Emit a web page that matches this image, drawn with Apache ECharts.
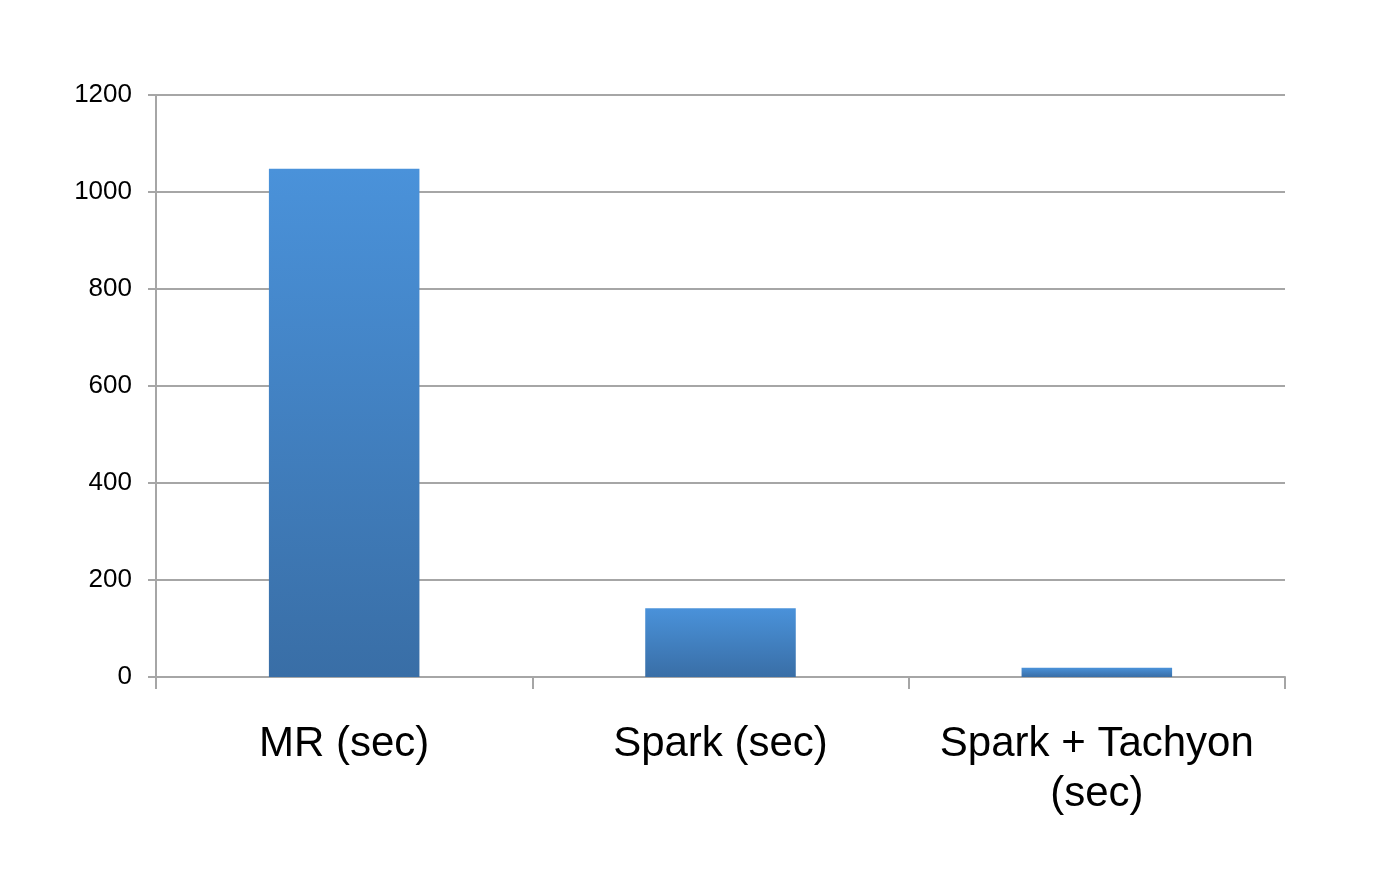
<!DOCTYPE html>
<html><head><meta charset="utf-8">
<script src="https://cdn.jsdelivr.net/npm/echarts@6/dist/echarts.min.js"></script>
<style>html,body{margin:0;padding:0;background:#fff}#c{width:1400px;height:873px}</style>
</head><body><div id="c"></div>
<script>
const categories = ['MR (sec)', 'Spark (sec)', 'Spark + Tachyon\n(sec)'];
const values = [1048, 142, 19];
const yTicks = [0, 200, 400, 600, 800, 1000, 1200];

const chart = echarts.init(document.getElementById('c'));
chart.setOption({
  backgroundColor: '#ffffff',
  animation: false,
  grid: { left: 156, right: 115, top: 95, bottom: 196 },
  xAxis: {
    type: 'category',
    data: categories,
    axisLine: { lineStyle: { color: '#a6a6a6', width: 2 } },
    axisTick: { show: true, length: 12, alignWithLabel: false, lineStyle: { color: '#a6a6a6', width: 2 } },
    axisLabel: { color: '#000', fontSize: 42, fontFamily: 'Liberation Sans, Arial', margin: 42, lineHeight: 50, interval: 0 }
  },
  yAxis: {
    type: 'value',
    min: yTicks[0],
    max: yTicks[yTicks.length - 1],
    interval: 200,
    axisLine: { show: true, lineStyle: { color: '#a6a6a6', width: 2 } },
    axisTick: { show: true, inside: false, length: 8, lineStyle: { color: '#a6a6a6', width: 2 } },
    splitLine: { lineStyle: { color: '#a6a6a6', width: 2 } },
    axisLabel: { color: '#000', fontSize: 26, fontFamily: 'Liberation Sans, Arial', margin: 24, padding: [10, 0, 0, 0], formatter: v => String(v) }
  },
  series: [{
    type: 'bar',
    data: values,
    barWidth: '40%',
    itemStyle: {
      color: new echarts.graphic.LinearGradient(0, 0, 0, 1, [
        { offset: 0, color: '#4a92da' },
        { offset: 1, color: '#396ea6' }
      ])
    }
  }]
});
</script></body></html>
